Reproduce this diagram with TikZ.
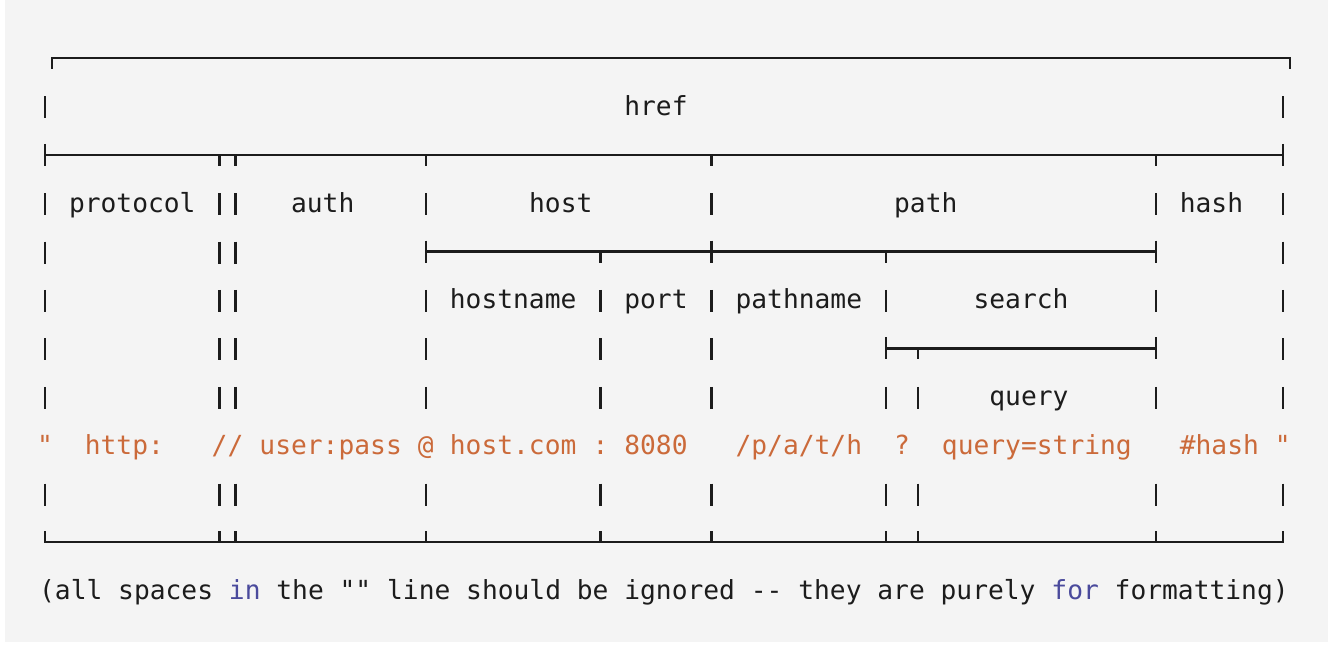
\documentclass[tikz,border=0pt]{standalone}
\usepackage{fontspec}
\setmonofont{DejaVu Sans Mono}
\usepackage{xcolor}
\usetikzlibrary{positioning}

\definecolor{panelgray}{HTML}{F4F4F4}
\definecolor{inkblack}{HTML}{1C1C1C}
\definecolor{strorange}{HTML}{CB6A3A}
\definecolor{kwblue}{HTML}{4A4A9C}

\tikzset{
  field/.style={font=\ttfamily\fontsize{14.95}{18}\selectfont, text=inkblack,
    inner sep=0pt, anchor=base, yshift=-0.18cm},
  urlpart/.style={field, text=strorange},
  rule/.style={draw=inkblack, line width=1.35pt},
}

% vertical bars of a text row, and ticks of a rule row
\newcommand{\vbars}[2]{\foreach \c in {#2} \draw[rule] (\c,#1) ++(0,0.2cm) -- ++(0,-0.44cm);}
\newcommand{\tickdown}[2]{\foreach \c in {#2} \draw[rule] (\c,#1) -- ++(0,-0.22cm);}
\newcommand{\tickup}[2]{\foreach \c in {#2} \draw[rule] (\c,#1) -- ++(0,0.22cm);}
\newcommand{\tickboth}[2]{\foreach \c in {#2} \draw[rule] (\c,#1) ++(0,0.22cm) -- ++(0,-0.44cm);}

\begin{document}
\begin{tikzpicture}[x=0.3174cm, y=-0.968cm]
    % canvas
    \useasboundingbox (-0.9cm,1.16cm) rectangle (25.66cm,-11.84cm);
    \fill[white] (-0.9cm,1.16cm) rectangle (25.66cm,-11.84cm);
    \fill[panelgray] (-0.8cm,1.16cm) rectangle (25.66cm,-11.68cm);

    % href
    \draw[rule, xshift=0.14cm] (0,0) ++(0,-0.22cm) -- (0,0) -- (78,0) -- ++(0,-0.22cm);
    \node[field] (href) at (38.5,1) {href};
    \vbars{1}{0,78}

    % protocol / auth / host / path / hash
    \draw[rule] (0,2) -- (78,2);
    \tickboth{2}{0,78}
    \tickdown{2}{11,12,24,42,70}
    \node[field] (protocol) at (5.5,3) {protocol};
    \node[field] (auth) at (17.5,3) {auth};
    \node[field] (host) at (32.5,3) {host};
    \node[field] (path) at (55.5,3) {path};
    \node[field] (hash) at (73.5,3) {hash};
    \vbars{3}{0,11,12,24,42,70,78}

    % hostname / port / pathname / search
    \draw[rule] (24,4) -- (70,4);
    \tickboth{4}{24,42,70}
    \tickdown{4}{35,53}
    \vbars{4}{0,11,12,78}
    \node[field] (hostname) at (29.5,5) {hostname};
    \node[field] (port) at (38.5,5) {port};
    \node[field] (pathname) at (47.5,5) {pathname};
    \node[field] (search) at (61.5,5) {search};
    \vbars{5}{0,11,12,24,35,42,53,70,78}

    % query
    \draw[rule] (53,6) -- (70,6);
    \tickboth{6}{53,70}
    \tickdown{6}{55}
    \vbars{6}{0,11,12,24,35,42,78}
    \node[field] (query) at (62,7) {query};
    \vbars{7}{0,11,12,24,35,42,53,55,70,78}

    % the url string
    \node[urlpart] (qopen) at (0,8) {"};
    \node[urlpart] (proto) at (5,8) {http:};
    \node[urlpart] (slashes) at (11.5,8) {//};
    \node[urlpart] (userpass) at (18,8) {user:pass};
    \node[urlpart] (at) at (24,8) {@};
    \node[urlpart] (hostcom) at (29.5,8) {host.com};
    \node[urlpart] (colon) at (35,8) {:};
    \node[urlpart] (portnum) at (38.5,8) {8080};
    \node[urlpart] (pathstr) at (47.5,8) {/p/a/t/h};
    \node[urlpart] (qmark) at (54,8) {?};
    \node[urlpart] (querystr) at (62.5,8) {query=string};
    \node[urlpart] (hashstr) at (74,8) {\#hash};
    \node[urlpart] (qclose) at (78,8) {"};

    \vbars{9}{0,11,12,24,35,42,53,55,70,78}
    \draw[rule] (0,10) ++(0,0.22cm) -- (0,10) -- (78,10) -- ++(0,0.22cm);
    \tickup{10}{11,12,24,35,42,53,55,70}

    % note
    \node[field] (note) at (39,11) {(all spaces \textcolor{kwblue}{in} the "" line should be ignored -{}- they are purely \textcolor{kwblue}{for} formatting)};
\end{tikzpicture}
\end{document}
